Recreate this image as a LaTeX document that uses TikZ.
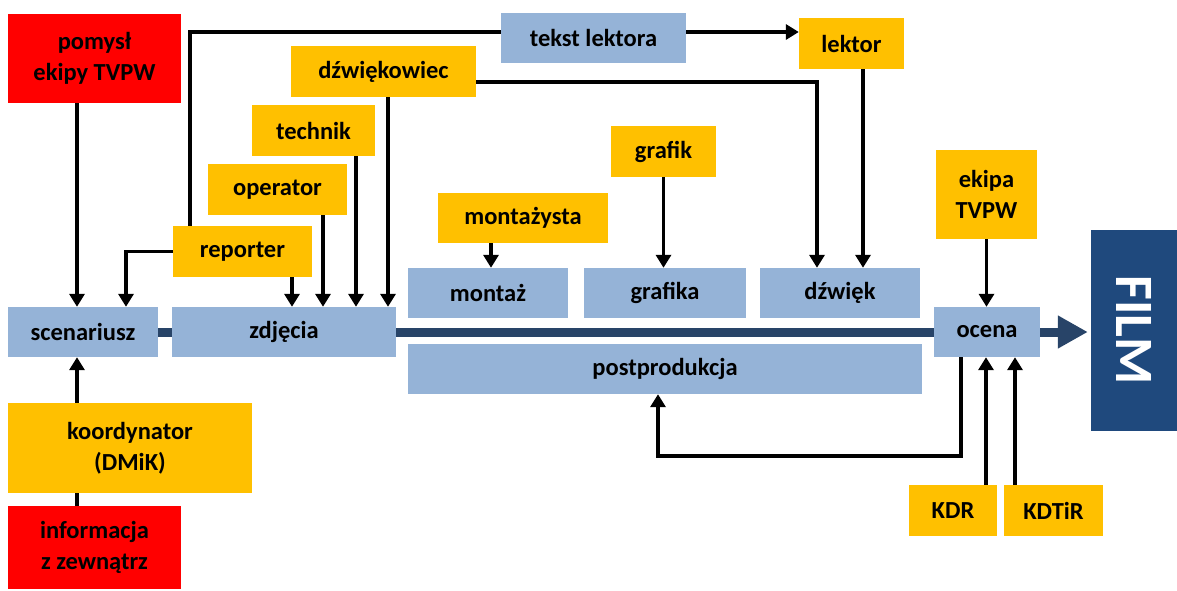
\documentclass[tikz,border=0pt]{standalone}
\usepackage{fontspec}
\setmainfont{Carlito}
\usetikzlibrary{arrows.meta}
\definecolor{rolefill}{HTML}{FFC000}
\definecolor{taskfill}{HTML}{95B3D7}
\definecolor{srcfill}{HTML}{FF0000}
\definecolor{flowcol}{HTML}{284468}
\definecolor{filmfill}{HTML}{1F497D}
\begin{document}
\begin{tikzpicture}[x=1pt,y=-1pt,
  box/.style={inner sep=0pt,align=center,font=\fontsize{24.5}{31}\selectfont\bfseries},
  role/.style={box,fill=rolefill},
  task/.style={box,fill=taskfill},
  source/.style={box,fill=srcfill},
  wire/.style={line width=3.5pt},
  arr/.style={wire,-{Triangle[width=15pt,length=13pt]}},
  flow/.style={line width=9pt,draw=flowcol}]
  \useasboundingbox (0,0) rectangle (1177,590);
  % left column
  \node[source,minimum width=173pt,minimum height=89pt] (pomysl) at (94.5,58.5) {pomysł\\ekipy TVPW};
  \node[task,minimum width=150pt,minimum height=50pt] (scenariusz) at (83,332) {scenariusz};
  \node[role,minimum width=244pt,minimum height=90pt] (koordynator) at (130,448) {koordynator\\(DMiK)};
  \node[source,minimum width=173pt,minimum height=83pt] (informacja) at (94.5,547.5) {informacja\\z zewnątrz};
  % production
  \node[task,minimum width=224pt,minimum height=50pt] (zdjecia) at (284,332) {zdjęcia};
  \node[role,minimum width=139pt,minimum height=51pt] (reporter) at (242.5,251.5) {reporter};
  \node[role,minimum width=139pt,minimum height=51pt] (operator) at (277.5,189.5) {operator};
  \node[role,minimum width=123pt,minimum height=51pt] (technik) at (313.5,130.5) {technik};
  \node[role,minimum width=185pt,minimum height=51pt] (dzwiekowiec) at (383.5,71.5) {dźwiękowiec};
  \node[task,minimum width=185pt,minimum height=50pt] (tekst) at (593.5,38) {tekst lektora};
  \node[role,minimum width=105pt,minimum height=51pt] (lektor) at (851.5,43.5) {lektor};
  % postproduction
  \node[role,minimum width=170pt,minimum height=50pt] (montazysta) at (523,218) {montażysta};
  \node[role,minimum width=105pt,minimum height=51pt] (grafik) at (663.5,151.5) {grafik};
  \node[task,minimum width=160pt,minimum height=50pt] (montaz) at (488,293) {montaż};
  \node[task,minimum width=162pt,minimum height=50pt] (grafika) at (665,293) {grafika};
  \node[task,minimum width=160pt,minimum height=50pt] (dzwiek) at (840,293) {dźwięk};
  \node[task,minimum width=514pt,minimum height=50pt] (postprodukcja) at (665,369) {postprodukcja};
  % evaluation
  \node[role,minimum width=101pt,minimum height=89pt] (ekipa) at (986.5,194.5) {ekipa\\TVPW};
  \node[task,minimum width=106pt,minimum height=50pt] (ocena) at (987,332) {ocena};
  \node[role,minimum width=88pt,minimum height=51pt] (kdr) at (953,510.5) {KDR};
  \node[role,minimum width=99pt,minimum height=51pt] (kdtir) at (1053.5,510.5) {KDTiR};
  \node[fill=filmfill,inner sep=0pt,minimum width=201pt,minimum height=86pt,rotate=-90,
        text=white,font=\fontsize{54}{60}\selectfont\bfseries] (film) at (1134,330) {FILM};
  \coordinate (back) at (658,456);

  \draw[flow] (scenariusz.east) -- (zdjecia.west);
  \draw[flow] (zdjecia.east) -- (ocena.west);
  \draw[flow,-{Triangle[width=31pt,length=30pt]}] (ocena.east) -- ([xshift=-3pt]ocena.east -| film.south);

  \draw[arr] ([xshift=-17.5pt]pomysl.south) -- ([xshift=-17.5pt]pomysl.south |- scenariusz.north);
  \draw[arr] ([xshift=-53pt]koordynator.north) -- ([xshift=-53pt]koordynator.north |- scenariusz.south);
  \draw[wire] ([xshift=-17.5pt]informacja.north) -- ([xshift=-17.5pt]informacja.north |- koordynator.south);
  \draw[arr] (reporter.west) -| ([xshift=43pt]scenariusz.north);
  \draw[wire] ([xshift=-52.5pt]reporter.north) |- ([yshift=6pt]tekst.west);
  \draw[arr] ([yshift=6pt]tekst.east) -- ([yshift=6pt]tekst.east -| lektor.west);
  \draw[arr] ([xshift=49.5pt]reporter.south) -- ([xshift=49.5pt]reporter.south |- zdjecia.north);
  \draw[arr] ([xshift=45.5pt]operator.south) -- ([xshift=45.5pt]operator.south |- zdjecia.north);
  \draw[arr] ([xshift=42.5pt]technik.south) -- ([xshift=42.5pt]technik.south |- zdjecia.north);
  \draw[arr] ([xshift=4.5pt]dzwiekowiec.south) -- ([xshift=4.5pt]dzwiekowiec.south |- zdjecia.north);
  \draw[arr] ([yshift=-10.5pt]dzwiekowiec.east) -| ([xshift=-23pt]dzwiek.north);
  \draw[arr] ([xshift=11.5pt]lektor.south) -- ([xshift=11.5pt]lektor.south |- dzwiek.north);
  \draw[arr] ([xshift=-32pt]montazysta.south) -- ([xshift=-32pt]montazysta.south |- montaz.north);
  \draw[arr] (grafik.south) -- (grafik.south |- grafika.north);
  \draw[arr] (ekipa.south) -- (ekipa.south |- ocena.north);
  \draw[arr] ([xshift=-26pt]ocena.south) |- (back) -- (back |- postprodukcja.south);
  \draw[arr] ([xshift=33pt]kdr.north) -- ([xshift=33pt]kdr.north |- ocena.south);
  \draw[arr] ([xshift=-38.5pt]kdtir.north) -- ([xshift=-38.5pt]kdtir.north |- ocena.south);
\end{tikzpicture}
\end{document}
